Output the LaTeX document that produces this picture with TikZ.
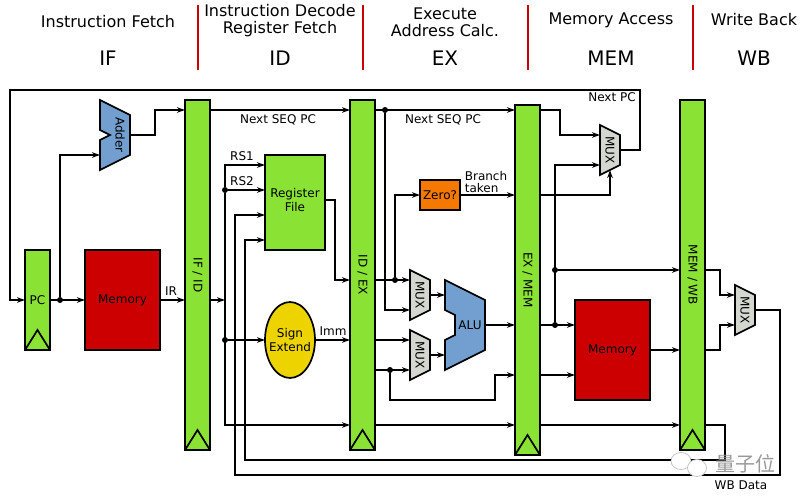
\documentclass[tikz,border=0pt]{standalone}
\usepackage{fontspec}
\setmainfont{DejaVu Sans}
\newfontfamily\cjk{Noto Sans CJK SC}
\usetikzlibrary{arrows.meta,positioning,shapes.geometric,calc}

\begin{document}
\begin{tikzpicture}[
        >={Stealth[length=8pt,width=5.5pt]},
        x=1pt, y=-1pt, % Coordenadas en pixeles de la figura
        line width=1.7pt,
        every node/.style={font=\fontsize{12}{14.5}\selectfont, inner sep=0pt, outer sep=0pt},
        wire/.style={->, line width=1.7pt},
        regbar/.style={draw, fill=regreen, minimum width=25, minimum height=350, line width=1.7pt},
        redblock/.style={draw, fill=memred, minimum width=75, minimum height=100},
        forkdot/.style={circle, fill=black, minimum size=6},
        hollow/.style={minimum width=#1, minimum height=70},
        stagehead/.style={font=\fontsize{16}{17}\selectfont, align=center},
        stagename/.style={font=\fontsize{20}{22}\selectfont},
        stageline/.style={color=memred, line width=1.5pt},
        clocktri/.style={line width=1.7pt},
        shapefill/.style={draw, line width=1.7pt, line join=miter}
    ]

    % --- COLORES ---
    \definecolor{regreen}{RGB}{138, 226, 52}
    \definecolor{memred}{RGB}{204, 0, 0}
    \definecolor{zeroorange}{RGB}{245, 121, 0}
    \definecolor{signyellow}{RGB}{237, 212, 0}
    \definecolor{alublue}{RGB}{114, 159, 207}
    \definecolor{muxgray}{RGB}{211, 215, 207}

    \useasboundingbox (0,0) rectangle (800,500);

    % --- ETAPAS ---
    \foreach \sx in {198,363,528,693}
        \draw[stageline] (\sx,5) -- (\sx,70);
    \node[stagehead] (headif) at (108,22) {Instruction Fetch};
    \node[stagehead] (headid) at (280,20.5) {Instruction Decode\\Register Fetch};
    \node[stagehead] (headex) at (445,22) {Execute\\Address Calc.};
    \node[stagehead] (headmem) at (611,20) {Memory Access};
    \node[stagehead] (headwb) at (754,20) {Write Back};
    \node[stagename] (nameif) at (108,58) {IF};
    \node[stagename] (nameid) at (280,58) {ID};
    \node[stagename] (nameex) at (445,58) {EX};
    \node[stagename] (namemem) at (611,58) {MEM};
    \node[stagename] (namewb) at (754,58) {WB};

    % --- REGISTROS DE PIPELINE ---
    \node[regbar, minimum height=100] (pc) at (37.5,300) {PC};
    \node[regbar] (ifid) at (197.5,275) {\rotatebox{-90}{IF / ID}};
    \node[regbar] (idex) at (362.5,275) {\rotatebox{-90}{ID / EX}};
    \node[regbar] (exmem) at (527.5,280) {\rotatebox{-90}{EX / MEM}};
    \node[regbar] (memwb) at (692.5,275) {\rotatebox{-90}{MEM / WB}};

    % Triangulo de reloj al pie de cada registro
    \foreach \reg in {pc,ifid,idex,exmem,memwb}
        \draw[clocktri] (\reg.south west) -- ($(\reg.south)+(0,-20)$) -- (\reg.south east);

    % --- BLOQUES ---
    \node[redblock] (imem) at (122.5,300) {Memory};
    \node[redblock] (dmem) at (612.5,350) {Memory};
    \node[draw, fill=regreen, minimum width=60, minimum height=95,
        label={[align=center, yshift=2.5pt]center:Register\\File}] (regfile) at (295,202.5) {};
    \node[draw, fill=signyellow, ellipse, minimum width=50, minimum height=76,
        label={[align=center]center:Sign\\Extend}] (signext) at (290,340) {};
    \node[draw, fill=zeroorange, minimum width=40, minimum height=30] (zero) at (440,195) {Zero?};

    % Sumador y ALU con su muesca
    \draw[shapefill, fill=alublue] (100,100) -- (130,115) -- (130,155) -- (100,170)
        -- (100,140) -- (110,135) -- (100,130) -- cycle;
    \node[hollow=30] (adder) at (115,135) {\hspace{10pt}\rotatebox{-90}{Adder}};
    \draw[shapefill, fill=alublue] (445,280) -- (485,300) -- (485,350) -- (445,370)
        -- (445,340) -- (455,335) -- (455,315) -- (445,310) -- cycle;
    \node[hollow=40] (alu) at (465,325) {\hspace{10pt}ALU};

    % Multiplexores
    \foreach \mname/\cx/\cy in {muxpc/610/150, muxa/420/295, muxb/420/355, muxwb/745/310}{
        \draw[shapefill, fill=muxgray] ({\cx-10},{\cy-25}) -- ({\cx+10},{\cy-15})
            -- ({\cx+10},{\cy+15}) -- ({\cx-10},{\cy+25}) -- cycle;
        \node[hollow=20, minimum height=50] (\mname) at (\cx,\cy) {\rotatebox{-90}{MUX}};
    }

    % --- PUNTOS DE UNION ---
    \node[forkdot] (fkpc) at (60,300) {};
    \node[forkdot] (fkrs) at (225,190) {};
    \node[forkdot] (fkimm) at (225,340) {};
    \node[forkdot] (fkseq) at (385,110) {};
    \node[forkdot] (fkzero) at (395,280) {};
    \node[forkdot] (fkst) at (390,370) {};
    \node[forkdot] (fkalu) at (555,325) {};
    \node[forkdot] (fkwb) at (555,270) {};

    % --- FILAS Y CODOS ---
    \coordinate (rowseq) at (0,110);
    \coordinate (rowrsa) at (0,165);
    \coordinate (rowrf) at (0,200);
    \coordinate (rowfwd) at (0,280);
    \coordinate (rowmuxa) at (0,310);
    \coordinate (rowst) at (0,375);
    \coordinate (rowlatch) at (0,425);
    \coordinate (rowpcb) at (0,165);
    \coordinate (addin) at (100,155);
    \coordinate (addbend) at (155,110);
    \coordinate (looptr) at (640,90);
    \coordinate (looptl) at (10,90);
    \coordinate (rfbend) at (335,280);
    \coordinate (wbcnr) at (780,475);
    \coordinate (wbbend) at (235,215);
    \coordinate (fwcnr) at (725,460);
    \coordinate (fwbend) at (245,240);
    \coordinate (stbend) at (495,400);
    \coordinate (pcbend) at (560,135);
    \coordinate (muxsel) at (610,170);
    \coordinate (bendwa) at (720,295);
    \coordinate (bendwb) at (720,325);

    % --- ETAPA IF ---
    \draw[wire] (muxpc.east) -| (looptr) -- (looptl) |- (pc.west);
    \draw[wire] (pc) -- (imem);
    \draw[wire] (fkpc) |- (addin);
    \draw[wire] (adder.east) -| (addbend) -- (addbend -| ifid.west);
    \draw[wire] (imem.east) -- (imem.east -| ifid.west);
    \node (irlabel) at (171,291) {IR};

    % --- ETAPA ID ---
    \draw[wire] (rowseq -| ifid.east) -- (rowseq -| idex.west);
    \draw[wire] (pc -| ifid.east) -- (pc -| fkrs);
    \draw[wire] (fkrs) |- (rowrsa -| regfile.west);
    \draw[wire] (fkrs) -- (fkrs -| regfile.west);
    \draw[wire] (fkrs) |- (rowlatch -| idex.west);
    \draw[wire] (fkimm) -- (signext.west);
    \draw[wire] (signext.east) -- (signext.east -| idex.west);
    \draw[wire] (rowrf -| regfile.east) -| (rfbend) -- (rfbend -| idex.west);
    \node (seqlabela) at (278,120) {Next SEQ PC};
    \node (rsalabel) at (242,156) {RS1};
    \node (rsblabel) at (242,181) {RS2};
    \node (immlabel) at (333,331) {Imm};

    % --- ETAPA EX ---
    \draw[wire] (rowseq -| idex.east) -- (rowseq -| exmem.west);
    \draw[wire] (fkseq) |- (rowmuxa -| muxa.west);
    \draw[wire] (rowfwd -| idex.east) -- (rowfwd -| muxa.west);
    \draw[wire] (fkzero) |- (zero.west);
    \draw[wire] (zero.east) -- (zero.east -| exmem.west);
    \draw[wire] (signext.east -| idex.east) -- (signext.east -| muxb.west);
    \draw[wire] (fkst -| idex.east) -- (fkst -| muxb.west);
    \draw[wire] (fkst) |- (stbend) |- (rowst -| exmem.west);
    \draw[wire] (muxa.east) -- (muxa.east -| alu.west);
    \draw[wire] (muxb.east) -- (muxb.east -| alu.west);
    \draw[wire] (alu.east) -- (alu.east -| exmem.west);
    \draw[wire] (rowlatch -| idex.east) -- (rowlatch -| exmem.west);
    \node (seqlabelb) at (443,120) {Next SEQ PC};
    \node[font=\fontsize{12}{12}\selectfont, align=left] (branchlabel) at (486,182) {Branch\\taken};

    % --- ETAPA MEM ---
    \draw[wire] (rowseq -| exmem.east) -| (pcbend) -- (pcbend -| muxpc.west);
    \draw[wire] (fkalu) |- (rowpcb -| muxpc.west);
    \draw[wire] (zero.east -| exmem.east) -| (muxsel);
    \draw[wire] (alu.east -| exmem.east) -- (alu.east -| dmem.west);
    \draw[wire] (fkwb) -- (fkwb -| memwb.west);
    \draw[wire] (rowst -| exmem.east) -- (rowst -| dmem.west);
    \draw[wire] (dmem.east) -- (dmem.east -| memwb.west);
    \draw[wire] (rowlatch -| exmem.east) -- (rowlatch -| memwb.west);
    \node (nextpclabel) at (612,97) {Next PC};

    % --- ETAPA WB ---
    \draw[wire] (fkwb -| memwb.east) -| (bendwa) -- (bendwa -| muxwb.west);
    \draw[wire] (dmem.east -| memwb.east) -| (bendwb) -- (bendwb -| muxwb.west);
    \draw[wire] (muxwb.east) -| (wbcnr) -| (wbbend) -- (wbbend -| regfile.west);
    \draw[wire] (rowlatch -| memwb.east) -| (fwcnr) -| (fwbend) -- (fwbend -| regfile.west);
    \node (wbdatalabel) at (741,485) {WB Data};

    % --- MARCA DE AGUA ---
    \node[draw=black!25, fill=white, ellipse, minimum width=20, minimum height=17, line width=0.7pt] (wmbig) at (681,461) {};
    \node[draw=black!25, fill=white, ellipse, minimum width=19, minimum height=17, line width=0.7pt] (wmsmall) at (697,468) {};
    \node[font=\cjk\fontsize{20}{22}\selectfont, text=black!40] (wmtext) at (745,464) {量子位};

\end{tikzpicture}
\end{document}
